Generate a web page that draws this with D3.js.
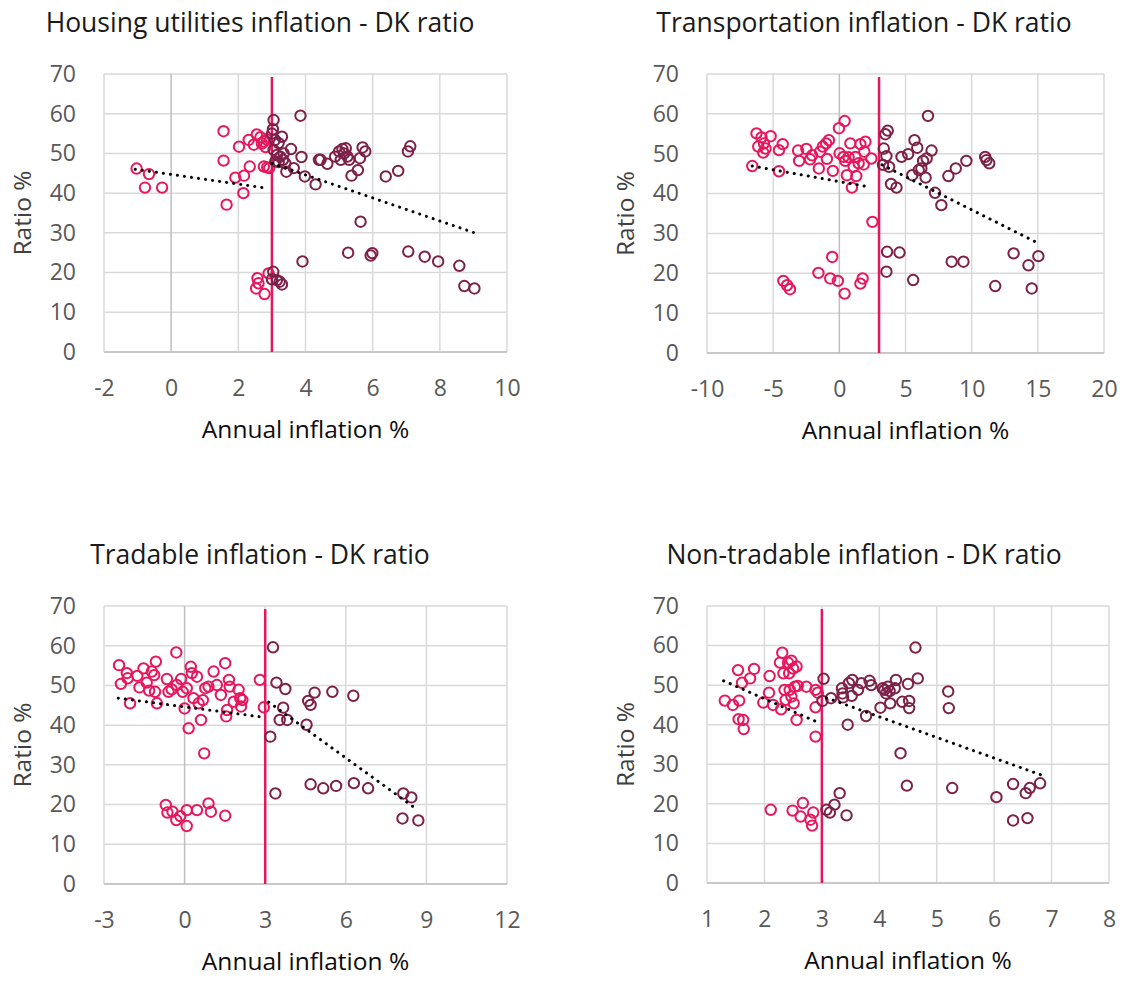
<!DOCTYPE html>
<html>
<head>
<meta charset="utf-8">
<script src="https://cdn.jsdelivr.net/npm/d3@7"></script>
<style>
  body { margin: 0; background: #fff; }
  svg { display: block; font-family: "Open Sans", "Noto Sans", sans-serif; }
</style>
</head>
<body>
<svg width="1128" height="981"></svg>
<script>
// ---- data: [annual inflation %, DK ratio %] ----
const ratioTicks = [0, 10, 20, 30, 40, 50, 60, 70];

const housingTicks = [-2, 0, 2, 4, 6, 8, 10];
const housingBelow = [[-1.03,46.2],[-0.66,44.8],[-0.78,41.4],[-0.27,41.4],[1.56,55.6],[1.56,48.2],[1.65,37.1],
  [2.02,51.7],[1.91,43.9],[2.17,44.4],[2.15,40.0],[2.34,46.7],[2.31,53.4],[2.46,52.2],[2.55,54.8],[2.66,54.1],
  [2.76,53.0],[2.81,51.6],[2.76,46.7],[2.86,46.5],[2.92,46.3],[2.7,52.5],[2.85,53.5],
  [2.57,18.6],[2.6,17.3],[2.53,16.0],[2.78,14.6],[2.9,19.8]];
const housingAbove = [[3.05,58.4],[3.03,56.1],[3.0,55.0],[3.09,53.4],[3.3,54.2],[3.2,52.6],[3.05,50.9],[3.15,49.6],
  [3.25,49.2],[3.33,48.4],[3.4,47.5],[3.43,45.4],[3.57,51.1],[3.65,46.3],[3.85,59.5],[3.88,49.1],[3.98,44.2],
  [4.3,42.2],[4.4,48.4],[4.45,48.4],[4.65,47.4],[4.88,49.2],[5.0,50.5],[5.1,51.1],[5.15,50.0],[5.05,48.4],
  [5.25,49.2],[5.3,48.4],[5.2,51.3],[5.37,44.4],[5.56,45.8],[5.62,48.8],[5.7,51.5],[5.78,50.5],[5.64,32.8],
  [5.27,25.0],[5.94,24.3],[5.99,24.9],[6.39,44.2],[6.76,45.6],[7.05,50.5],[7.12,51.8],[7.06,25.3],[7.55,24.0],
  [7.95,22.8],[8.58,21.7],[8.73,16.6],[9.03,16.0],[3.91,22.8],[3.04,20.2],[3.0,18.3],[3.15,18.1],[3.23,17.7],
  [3.3,17.0],[3.1,48.0],[3.2,47.8],[3.35,50.0]];
const housingTrendBelow = [[-1.07,46.0],[2.9,41.2]];
const housingTrendAbove = [[3.0,47.5],[9.0,30.1]];

const transportTicks = [-10, -5, 0, 5, 10, 15, 20];
const transportBelow = [[-6.58,46.9],[-6.26,55.1],[-5.88,54.1],[-6.13,51.8],[-5.7,52.6],[-5.57,51.3],[-5.75,50.3],
  [-5.19,54.4],[-4.56,50.9],[-4.28,52.4],[-4.56,45.6],[-3.12,50.8],[-3.04,48.2],[-2.49,51.2],[-2.21,48.6],
  [-2.06,49.6],[-1.55,46.3],[-1.45,50.5],[-1.25,51.8],[-1.0,52.6],[-0.79,53.4],[-0.94,48.7],[-0.49,45.7],
  [-0.03,56.4],[0.4,58.2],[0.02,50.1],[0.32,49.2],[0.45,48.2],[0.57,44.6],[0.7,49.1],[0.83,52.6],[0.95,41.5],
  [1.08,46.7],[1.21,49.2],[1.28,44.4],[1.46,47.6],[1.59,52.4],[1.84,47.3],[1.97,53.0],[1.89,50.5],[2.42,48.8],
  [2.5,32.9],[-4.23,18.1],[-3.95,17.0],[-3.73,16.0],[-1.58,20.1],[-0.69,18.7],[-0.11,18.1],[-0.54,24.1],
  [0.4,14.9],[1.59,17.4],[1.76,18.7]];
const transportAbove = [[3.3,47.2],[3.36,51.3],[3.48,54.9],[3.66,55.8],[3.56,49.4],[3.76,46.7],[3.91,42.4],
  [4.32,41.5],[4.7,49.2],[5.2,49.9],[5.51,44.6],[5.68,53.4],[5.89,51.5],[6.0,45.9],[6.2,46.3],[6.33,48.2],
  [6.6,48.8],[6.52,44.0],[6.7,59.5],[6.97,50.8],[7.23,40.2],[7.71,37.1],[8.24,44.4],[8.8,46.3],[9.6,48.2],
  [11.02,49.2],[11.12,48.4],[11.33,47.6],[3.61,25.4],[4.55,25.2],[3.56,20.4],[5.58,18.3],[8.49,22.9],
  [9.38,22.9],[11.78,16.8],[13.17,25.0],[14.29,22.0],[14.54,16.2],[15.04,24.3]];
const transportTrendBelow = [[-6.58,46.9],[2.22,41.7]];
const transportTrendAbove = [[3.23,47.2],[15.0,27.6]];

const tradableTicks = [-3, 0, 3, 6, 9, 12];
const tradableBelow = [[-2.44,55.1],[-2.37,50.4],[-2.15,53.1],[-2.12,51.8],[-2.03,45.5],[-1.76,52.4],[-1.68,49.5],
  [-1.53,54.3],[-1.41,50.7],[-1.32,48.7],[-1.22,53.5],[-1.13,52.6],[-1.07,56.0],[-1.1,48.4],[-1.03,45.5],
  [-0.66,51.6],[-0.6,48.4],[-0.48,49.0],[-0.31,58.3],[-0.29,50.1],[-0.13,51.6],[-0.07,48.4],[0.0,44.2],
  [0.08,49.3],[0.15,39.2],[0.23,54.7],[0.27,53.1],[0.33,46.8],[0.46,52.2],[0.52,45.5],[0.61,41.3],[0.68,46.3],
  [0.73,32.9],[0.77,49.3],[0.89,49.7],[1.08,53.5],[1.2,50.1],[1.35,47.6],[1.51,55.6],[1.58,43.8],[1.55,42.2],
  [1.65,51.4],[1.68,49.7],[1.83,45.9],[2.01,48.9],[2.07,46.8],[2.1,44.7],[2.15,46.3],[2.8,51.4],[2.95,44.5],
  [-0.7,19.9],[-0.64,18.0],[-0.45,18.2],[-0.31,16.1],[-0.16,17.1],[0.08,18.6],[0.08,14.6],[0.46,18.6],
  [0.89,20.3],[0.98,18.2],[1.51,17.2]];
const tradableAbove = [[3.29,59.6],[3.42,50.7],[3.75,49.1],[3.67,44.4],[3.54,41.3],[3.82,41.3],[3.19,37.1],
  [3.38,22.8],[4.54,40.1],[4.6,46.1],[4.69,45.1],[4.84,48.2],[5.5,48.4],[6.28,47.4],[4.69,25.1],[5.16,24.1],
  [5.64,24.7],[6.3,25.4],[6.83,24.1],[8.14,22.8],[8.44,21.8],[8.11,16.5],[8.7,16.0]];
const tradableTrendBelow = [[-2.47,46.8],[2.82,42.1]];
const tradableTrendAbove = [[3.13,45.8],[8.58,19.1]];

const nontradableTicks = [1, 2, 3, 4, 5, 6, 7, 8];
const nontradableBelow = [[1.31,46.1],[1.45,45.0],[1.54,53.8],[1.56,46.1],[1.61,50.6],[1.55,41.4],[1.63,41.2],
  [1.64,38.9],[1.75,51.7],[1.82,54.1],[1.98,45.6],[2.08,48.1],[2.09,52.3],[2.15,45.0],[2.29,43.9],[2.27,55.7],
  [2.31,58.2],[2.33,53.0],[2.35,48.8],[2.37,46.3],[2.41,55.7],[2.43,53.0],[2.47,56.2],[2.5,54.2],[2.53,49.6],
  [2.56,54.7],[2.44,48.8],[2.47,47.1],[2.51,45.4],[2.56,41.2],[2.58,49.8],[2.73,49.6],[2.89,48.8],[2.93,48.1],
  [2.89,44.4],[2.89,37.0],[2.11,18.5],[2.49,18.3],[2.63,16.8],[2.67,20.2],[2.8,16.0],[2.83,14.5],[2.85,17.8]];
const nontradableAbove = [[3.03,51.6],[3.01,46.0],[3.16,46.7],[3.35,49.2],[3.36,47.9],[3.37,46.9],[3.47,50.5],
  [3.53,51.3],[3.52,47.3],[3.45,40.0],[3.63,48.8],[3.69,50.5],[3.77,42.2],[3.83,51.1],[3.86,50.0],[4.02,44.3],
  [4.06,49.2],[4.09,48.8],[4.12,47.9],[4.15,49.6],[4.18,48.5],[4.19,45.4],[4.27,49.2],[4.29,51.3],[4.37,32.8],
  [4.4,45.8],[4.5,50.3],[4.52,46.0],[4.52,44.2],[4.63,59.5],[4.67,51.7],[4.48,24.6],[3.08,18.5],[3.14,17.8],
  [3.22,19.8],[3.31,22.7],[3.43,17.1],[5.2,48.4],[5.21,44.2],[5.27,24.0],[6.04,21.7],[6.33,25.0],[6.33,15.8],
  [6.55,22.7],[6.62,24.0],[6.58,16.4],[6.8,25.2]];
const nontradableTrendBelow = [[1.29,51.1],[2.9,40.8]];
const nontradableTrendAbove = [[3.08,46.8],[6.82,27.3]];

const targetRate = 3;

// ---- layout ----
const panels = [
  { title: "Housing utilities inflation - DK ratio", ticks: housingTicks, below: housingBelow, above: housingAbove,
    trends: [housingTrendBelow, housingTrendAbove], left: 104, right: 507, top: 74, bottom: 352, cx: 260 },
  { title: "Transportation inflation - DK ratio", ticks: transportTicks, below: transportBelow, above: transportAbove,
    trends: [transportTrendBelow, transportTrendAbove], left: 707, right: 1104, top: 74, bottom: 353, cx: 864 },
  { title: "Tradable inflation - DK ratio", ticks: tradableTicks, below: tradableBelow, above: tradableAbove,
    trends: [tradableTrendBelow, tradableTrendAbove], left: 104, right: 507, top: 606, bottom: 884, cx: 260 },
  { title: "Non-tradable inflation - DK ratio", ticks: nontradableTicks, below: nontradableBelow, above: nontradableAbove,
    trends: [nontradableTrendBelow, nontradableTrendAbove], left: 707, right: 1109, top: 606, bottom: 883, cx: 864 }
];

const pink = "#e8175d", maroon = "#7d2148";
const svg = d3.select("svg");

panels.forEach(p => {
  const g = svg.append("g");
  const x = d3.scaleLinear().domain(d3.extent(p.ticks)).range([p.left, p.right]);
  const y = d3.scaleLinear().domain([0, 70]).range([p.bottom, p.top]);

  // gridlines
  g.append("g").selectAll("line").data(ratioTicks).join("line")
    .attr("x1", p.left).attr("x2", p.right)
    .attr("y1", d => y(d)).attr("y2", d => y(d))
    .attr("stroke", "#d9d9d9").attr("stroke-width", 1.5);
  g.append("g").selectAll("line").data(p.ticks).join("line")
    .attr("x1", d => x(d)).attr("x2", d => x(d))
    .attr("y1", p.top).attr("y2", p.bottom)
    .attr("stroke", d => d === 0 ? "#bfbfbf" : "#d9d9d9").attr("stroke-width", 1.5);
  g.append("line").attr("x1", p.left).attr("x2", p.right)
    .attr("y1", y(0)).attr("y2", y(0)).attr("stroke", "#bfbfbf").attr("stroke-width", 1.5);

  // tick labels via d3 axes, domain/tick lines hidden; plain hyphen minus like Excel
  const fmt = d => String(d);
  const yAxis = g.append("g").attr("transform", `translate(${p.left - 18},0)`)
    .call(d3.axisLeft(y).tickValues(ratioTicks).tickFormat(fmt).tickSize(0).tickPadding(10));
  const xAxis = g.append("g").attr("transform", `translate(0,${p.bottom + 28})`)
    .call(d3.axisBottom(x).tickValues(p.ticks).tickFormat(fmt).tickSize(0).tickPadding(0));
  [xAxis, yAxis].forEach(a => {
    a.select(".domain").remove();
    a.selectAll("text").attr("font-size", 23).attr("fill", "#595959")
      .attr("font-family", "'Open Sans', sans-serif");
  });

  // target line
  g.append("line").attr("x1", x(targetRate)).attr("x2", x(targetRate))
    .attr("y1", y(70) + 3).attr("y2", y(0))
    .attr("stroke", pink).attr("stroke-width", 2.5);

  // points
  g.append("g").selectAll("circle").data(p.below).join("circle")
    .attr("cx", d => x(d[0])).attr("cy", d => y(d[1])).attr("r", 5.2)
    .attr("fill", "none").attr("stroke", pink).attr("stroke-width", 2);
  g.append("g").selectAll("circle").data(p.above).join("circle")
    .attr("cx", d => x(d[0])).attr("cy", d => y(d[1])).attr("r", 5.2)
    .attr("fill", "none").attr("stroke", maroon).attr("stroke-width", 2);

  // dotted trend lines
  const line = d3.line().x(d => x(d[0])).y(d => y(d[1]));
  p.trends.forEach(t => {
    g.append("path").attr("d", line(t)).attr("fill", "none")
      .attr("stroke", "#000").attr("stroke-width", 3)
      .attr("stroke-linecap", "round").attr("stroke-dasharray", "0.1,7");
  });

  // titles
  g.append("text").attr("x", p.cx).attr("y", p.top - 42)
    .attr("text-anchor", "middle").attr("font-size", 26.5).attr("fill", "#1a1a1a")
    .text(p.title);
  g.append("text").attr("x", (p.left + p.right) / 2).attr("y", p.bottom + 86)
    .attr("text-anchor", "middle").attr("font-size", 24.5).attr("fill", "#0d0d0d")
    .text("Annual inflation %");
  g.append("text")
    .attr("transform", `translate(${p.left - 73},${(p.top + p.bottom) / 2}) rotate(-90)`)
    .attr("text-anchor", "middle").attr("font-size", 24.5).attr("fill", "#404040")
    .text("Ratio %");
});
</script>
</body>
</html>
